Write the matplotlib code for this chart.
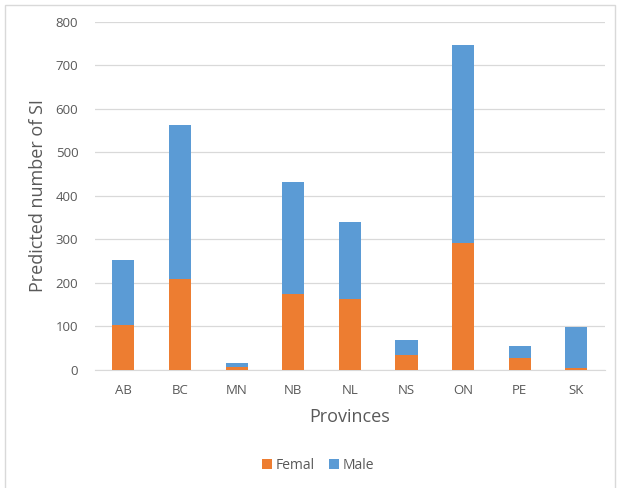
import matplotlib.pyplot as plt
from matplotlib.patches import Rectangle

# values
provinces = ["AB", "BC", "MN", "NB", "NL", "NS", "ON", "PE", "SK"]
female = [104, 208, 7, 175, 162, 35, 292, 28, 5]
male = [149, 356, 9, 256, 177, 33, 455, 27, 94]

orange = "#ED7D31"
blue = "#5B9BD5"
text_col = "#595959"

plt.rcParams['font.family'] = ['Open Sans', 'DejaVu Sans']

fig = plt.figure(figsize=(6.19, 4.88), dpi=100)
ax = fig.add_axes([0.1535, 0.242, 0.8235, 0.713])

x = range(len(provinces))
ax.bar(x, female, width=0.39, color=orange, label="Femal", zorder=3)
ax.bar(x, male, width=0.39, bottom=female, color=blue, label="Male", zorder=3)

ax.set_xlim(-0.5, len(provinces) - 0.5)
ax.set_ylim(0, 800)
ax.set_yticks(range(0, 801, 100))
ax.set_xticks(list(x))
ax.set_xticklabels(provinces)
ax.grid(axis='y', color="#D9D9D9", linewidth=0.9, zorder=0)
for s in ["top", "right", "left"]:
    ax.spines[s].set_visible(False)
ax.spines["bottom"].set_color("#D9D9D9")
ax.tick_params(length=0, colors=text_col, labelsize=9.5)
ax.tick_params(axis='x', pad=10)
ax.tick_params(axis='y', pad=12)

ax.set_xlabel("Provinces", fontsize=13, color=text_col, labelpad=8)
ax.set_ylabel("Predicted number of SI", fontsize=13, color=text_col, labelpad=6)

fig.legend(loc="center", bbox_to_anchor=(0.514, 0.047), ncol=2, frameon=False,
           fontsize=10, labelcolor=text_col, handlelength=0.7, handleheight=0.7,
           columnspacing=1.0, handletextpad=0.3)

fig.patches.append(Rectangle((0.008, -0.01), 0.985, 1.0, transform=fig.transFigure,
                             fill=False, edgecolor="#D9D9D9", linewidth=1))

fig.savefig("out.png", dpi=100)
